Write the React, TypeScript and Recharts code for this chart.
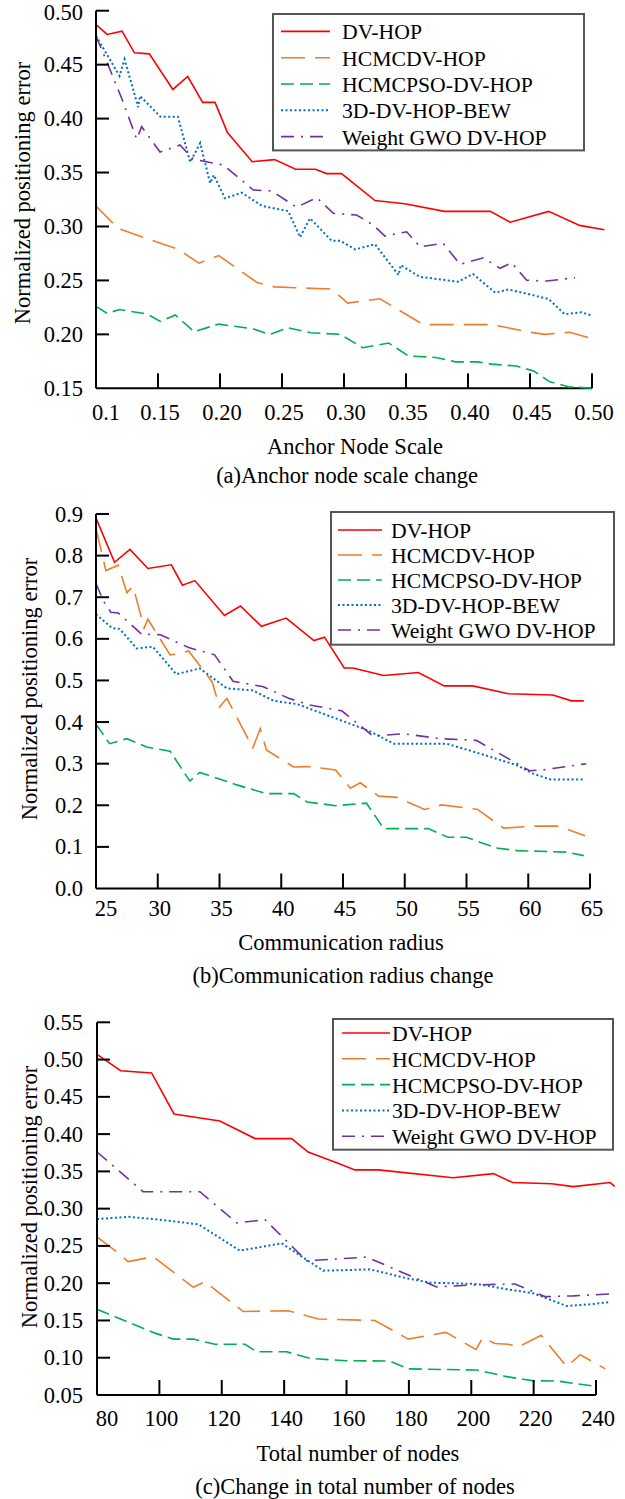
import React from 'react';
import { LineChart, Line, XAxis, YAxis, ReferenceLine, Legend } from 'recharts';

const FONT = '"Liberation Serif", "Times New Roman", serif';

// series shared by the three panels
const SERIES_NAMES = ['DV-HOP', 'HCMCDV-HOP', 'HCMCPSO-DV-HOP', '3D-DV-HOP-BEW', 'Weight GWO DV-HOP'];
const SERIES_COLORS = ['#ff0000', '#ee7d2c', '#00b050', '#0070c0', '#7030a0'];
const SERIES_DASHES = [undefined, '24 10', '13 6', '2 2.5', '13 7 2 7'];
const SERIES_WIDTHS = [1.6, 1.6, 1.6, 2, 1.6];

// (a) anchor node scale -> normalized positioning error
const anchorTicks = [0.1, 0.15, 0.2, 0.25, 0.3, 0.35, 0.4, 0.45, 0.5];
const anchorTickLabels = ['0.1', '0.15', '0.20', '0.25', '0.30', '0.35', '0.40', '0.45', '0.50'];
const errorTicksA = [0.15, 0.2, 0.25, 0.3, 0.35, 0.4, 0.45, 0.5];
const errorTickLabelsA = ['0.15', '0.20', '0.25', '0.30', '0.35', '0.40', '0.45', '0.50'];

const dvHopA = [[0.1, 0.487], [0.109, 0.478], [0.121, 0.481], [0.131, 0.461], [0.143, 0.46], [0.162, 0.427], [0.174, 0.439], [0.186, 0.415], [0.196, 0.415], [0.206, 0.387], [0.226, 0.36], [0.244, 0.362], [0.261, 0.353], [0.277, 0.353], [0.286, 0.349], [0.298, 0.349], [0.325, 0.324], [0.349, 0.321], [0.381, 0.314], [0.418, 0.314], [0.434, 0.304], [0.465, 0.314], [0.49, 0.301], [0.51, 0.297]];
const hcmcA = [[0.1, 0.319], [0.118, 0.298], [0.166, 0.279], [0.183, 0.266], [0.199, 0.273], [0.23, 0.248], [0.244, 0.244], [0.29, 0.242], [0.303, 0.229], [0.329, 0.233], [0.364, 0.209], [0.418, 0.209], [0.428, 0.207], [0.45, 0.202], [0.462, 0.2], [0.482, 0.202], [0.497, 0.197]];
const psoA = [[0.1, 0.226], [0.109, 0.2195], [0.119, 0.223], [0.135, 0.22], [0.141, 0.219], [0.152, 0.212], [0.164, 0.218], [0.179, 0.2025], [0.199, 0.2095], [0.227, 0.205], [0.24, 0.2], [0.255, 0.206], [0.273, 0.2015], [0.297, 0.2], [0.315, 0.1876], [0.336, 0.192], [0.352, 0.18], [0.374, 0.1786], [0.39, 0.1745], [0.408, 0.1745], [0.419, 0.1724], [0.439, 0.1706], [0.453, 0.166], [0.466, 0.156], [0.481, 0.1515], [0.5, 0.15]];
const bewA = [[0.1, 0.4766], [0.119, 0.4395], [0.123, 0.455], [0.134, 0.4106], [0.1355, 0.421], [0.152, 0.4017], [0.166, 0.4017], [0.176, 0.3596], [0.184, 0.3773], [0.192, 0.3402], [0.195, 0.3477], [0.204, 0.3261], [0.2175, 0.3313], [0.234, 0.319], [0.255, 0.3143], [0.2645, 0.29], [0.2726, 0.3076], [0.29, 0.2868], [0.297, 0.2868], [0.309, 0.2788], [0.325, 0.2835], [0.344, 0.255], [0.3457, 0.2642], [0.361, 0.2534], [0.392, 0.2488], [0.404, 0.2559], [0.422, 0.2386], [0.4325, 0.2417], [0.465, 0.2328], [0.478, 0.2186], [0.4917, 0.2204], [0.5, 0.2173]];
const gwoA = [[0.1, 0.4766], [0.11, 0.449], [0.121, 0.418], [0.1328, 0.381], [0.1368, 0.3925], [0.1516, 0.369], [0.1677, 0.3755], [0.1785, 0.3623], [0.2027, 0.357], [0.2269, 0.3338], [0.2417, 0.3329], [0.2618, 0.3178], [0.278, 0.3267], [0.2914, 0.3122], [0.3102, 0.3106], [0.3236, 0.3013], [0.333, 0.2911], [0.3505, 0.2951], [0.3613, 0.2812], [0.38, 0.2844], [0.3935, 0.2649], [0.4124, 0.271], [0.4258, 0.2612], [0.4352, 0.2664], [0.4473, 0.2502], [0.4634, 0.2494], [0.4863, 0.2525]];

// (b) communication radius -> normalized positioning error
const radiusTicks = [25, 30, 35, 40, 45, 50, 55, 60, 65];
const radiusTickLabels = ['25', '30', '35', '40', '45', '50', '55', '60', '65'];
const errorTicksB = [0, 0.1, 0.2, 0.3, 0.4, 0.5, 0.6, 0.7, 0.8, 0.9];
const errorTickLabelsB = ['0.0', '0.1', '0.2', '0.3', '0.4', '0.5', '0.6', '0.7', '0.8', '0.9'];

const dvHopB = [[25, 0.89], [26.5, 0.784], [27.75, 0.815], [29.2, 0.769], [31.1, 0.778], [32, 0.729], [33, 0.74], [35.4, 0.656], [36.7, 0.679], [38.4, 0.63], [40.4, 0.65], [42.65, 0.596], [43.5, 0.604], [45.1, 0.53], [45.8, 0.53], [48.3, 0.512], [51.1, 0.519], [53.2, 0.487], [55.5, 0.487], [58.4, 0.468], [62, 0.465], [63.5, 0.451], [64.5, 0.451]];
const hcmcB = [[25, 0.865], [25.8, 0.764], [26.8, 0.777], [27.5, 0.711], [28, 0.726], [28.9, 0.626], [29.2, 0.647], [31, 0.5615], [31.5, 0.563], [32.5, 0.571], [34.4, 0.497], [35, 0.436], [35.6, 0.457], [37.7, 0.338], [38.3, 0.384], [38.8, 0.333], [41, 0.292], [42.2, 0.293], [44.4, 0.285], [45.6, 0.241], [46.4, 0.254], [47.9, 0.222], [49.4, 0.219], [51.6, 0.19], [53, 0.201], [55.9, 0.19], [58, 0.145], [60.4, 0.15], [62.4, 0.15], [64.6, 0.127]];
const psoB = [[25, 0.395], [26.1, 0.348], [27.5, 0.36], [29.1, 0.34], [31, 0.33], [32.6, 0.258], [33.4, 0.279], [36.4, 0.249], [38.8, 0.228], [41, 0.228], [42.1, 0.208], [44.4, 0.199], [46.9, 0.205], [48.3, 0.144], [51.9, 0.144], [53.5, 0.123], [55, 0.123], [57.4, 0.0975], [59.1, 0.091], [63.1, 0.0875], [64.5, 0.079]];
const bewB = [[25, 0.659], [26.3, 0.626], [26.9, 0.624], [28.3, 0.577], [29.6, 0.581], [31.5, 0.515], [33.4, 0.529], [35.6, 0.481], [37.7, 0.476], [39.4, 0.451], [41.3, 0.443], [43.4, 0.42], [45.2, 0.4], [47.1, 0.379], [49.1, 0.348], [53.4, 0.348], [56.1, 0.324], [59.1, 0.296], [60.4, 0.276], [61.8, 0.262], [64.6, 0.262]];
const gwoB = [[25, 0.733], [25.6, 0.691], [26.2, 0.664], [26.8, 0.662], [28.7, 0.611], [30.2, 0.61], [32.5, 0.579], [34.6, 0.5615], [36.1, 0.498], [38.55, 0.485], [40.6, 0.457], [42.3, 0.441], [44.6, 0.4285], [44.9, 0.427], [47.45, 0.366], [49.9, 0.372], [52.9, 0.36], [55.8, 0.356], [60.1, 0.283], [61.2, 0.285], [64.7, 0.3]];

// (c) total number of nodes -> normalized positioning error
const nodeTicks = [80, 100, 120, 140, 160, 180, 200, 220, 240];
const nodeTickLabels = ['80', '100', '120', '140', '160', '180', '200', '220', '240'];
const errorTicksC = [0.05, 0.1, 0.15, 0.2, 0.25, 0.3, 0.35, 0.4, 0.45, 0.5, 0.55];
const errorTickLabelsC = ['0.05', '0.10', '0.15', '0.20', '0.25', '0.30', '0.35', '0.40', '0.45', '0.50', '0.55'];

const dvHopC = [[80, 0.507], [87.6, 0.485], [97.5, 0.482], [104.7, 0.427], [119.4, 0.4176], [130.7, 0.394], [142.4, 0.394], [147.7, 0.376], [157.9, 0.36], [162.7, 0.352], [170.2, 0.352], [194.2, 0.3415], [207.1, 0.347], [213.3, 0.335], [225.8, 0.3335], [232.7, 0.3295], [244.5, 0.335], [246, 0.33]];
const hcmcC = [[80, 0.262], [86.3, 0.242], [90, 0.229], [98, 0.2355], [110.9, 0.1945], [114.6, 0.202], [126.9, 0.162], [141.3, 0.163], [151, 0.152], [169.1, 0.15], [179.8, 0.125], [191.9, 0.134], [201.5, 0.111], [203.7, 0.127], [207.6, 0.119], [211.9, 0.118], [215.4, 0.115], [222.4, 0.13], [230.6, 0.088], [234.9, 0.104], [243, 0.085]];
const psoC = [[80, 0.165], [98.6, 0.133], [104.5, 0.125], [110.9, 0.125], [117.8, 0.118], [127.5, 0.118], [131.2, 0.108], [140.8, 0.108], [148.3, 0.099], [160, 0.096], [173.9, 0.0956], [179.8, 0.085], [201.7, 0.0835], [211.4, 0.0746], [219.9, 0.069], [227.4, 0.0688], [239.1, 0.062]];
const bewC = [[80, 0.286], [90, 0.289], [99, 0.2857], [112.5, 0.279], [125.8, 0.2436], [139.2, 0.2535], [152.5, 0.2168], [161, 0.2177], [167.5, 0.2186], [179.3, 0.2066], [186.8, 0.2007], [201.7, 0.199], [211.4, 0.192], [219.9, 0.1864], [230.6, 0.1694], [239.1, 0.172], [244, 0.1744]];
const gwoC = [[80, 0.376], [94.8, 0.3227], [113, 0.3227], [124.8, 0.281], [133.9, 0.285], [147.2, 0.23], [160.6, 0.2334], [166.5, 0.235], [180.4, 0.21], [188.9, 0.195], [200.6, 0.1976], [214, 0.199], [223.6, 0.182], [232.7, 0.183], [244.3, 0.1855]];

type Pair = number[];

interface Panel {
  top: number;
  height: number;
  margin: { top: number; right: number; bottom: number; left: number };
  plotLeft: number;
  plotBottom: number;
  xTickY: number;
  xDomain: [number, number];
  xTicks: number[];
  xTickLabels: string[];
  yDomain: [number, number];
  yTicks: number[];
  yTickLabels: string[];
  series: Pair[][];
  legend: { x: number; y: number; w: number; h: number; rowY: number; rowGap: number; lineX1: number; lineX2: number; textX: number };
  yTitle: { x: number; y: number };
  xTitle: { text: string; x: number; y: number };
  caption: { text: string; x: number; y: number };
}

const panels: Panel[] = [
  {
    top: 0,
    height: 430,
    margin: { top: 10.7, right: 18.1, bottom: 11.7, left: 0 },
    plotLeft: 96,
    plotBottom: 388.3,
    xTickY: 412,
    xDomain: [0.1, 0.512],
    xTicks: anchorTicks,
    xTickLabels: anchorTickLabels,
    yDomain: [0.15, 0.5],
    yTicks: errorTicksA,
    yTickLabels: errorTickLabelsA,
    series: [dvHopA, hcmcA, psoA, bewA, gwoA],
    legend: { x: 272, y: 13.3, w: 313, h: 138.4, rowY: 18.4, rowGap: 26.3, lineX1: 9, lineX2: 58, textX: 70 },
    yTitle: { x: 23, y: 193 },
    xTitle: { text: 'Anchor Node Scale', x: 355, y: 447 },
    caption: { text: '(a)Anchor node scale change', x: 347, y: 476 },
  },
  {
    top: 490,
    height: 440,
    margin: { top: 24, right: 35, bottom: 11.5, left: 0 },
    plotLeft: 96,
    plotBottom: 398.5,
    xTickY: 418,
    xDomain: [25, 65],
    xTicks: radiusTicks,
    xTickLabels: radiusTickLabels,
    yDomain: [0, 0.9],
    yTicks: errorTicksB,
    yTickLabels: errorTickLabelsB,
    series: [dvHopB, hcmcB, psoB, bewB, gwoB],
    legend: { x: 330, y: 21, w: 285, h: 134.7, rowY: 19, rowGap: 25, lineX1: 8, lineX2: 52, textX: 61 },
    yTitle: { x: 30, y: 689 },
    xTitle: { text: 'Communication radius', x: 341, y: 943 },
    caption: { text: '(b)Communication radius change', x: 343, y: 976 },
  },
  {
    top: 1000,
    height: 430,
    margin: { top: 22.3, right: 8.7, bottom: 5, left: 0 },
    plotLeft: 97,
    plotBottom: 395,
    xTickY: 418.3,
    xDomain: [80, 246.5],
    xTicks: nodeTicks,
    xTickLabels: nodeTickLabels,
    yDomain: [0.05, 0.55],
    yTicks: errorTicksC,
    yTickLabels: errorTickLabelsC,
    series: [dvHopC, hcmcC, psoC, bewC, gwoC],
    legend: { x: 332, y: 18.3, w: 282, h: 132.7, rowY: 15, rowGap: 25.8, lineX1: 10, lineX2: 58, textX: 60 },
    yTitle: { x: 30, y: 1197 },
    xTitle: { text: 'Total number of nodes', x: 358, y: 1454 },
    caption: { text: '(c)Change in total number of nodes', x: 355, y: 1487 },
  },
];

const toPoints = (pairs: Pair[]) => pairs.map(([x, y]) => ({ x, y }));

// x ticks point up into the plot; the first label sits right of the corner
const makeXTick = (p: Panel) => (props: any) => {
  const { x, payload } = props;
  const i = p.xTicks.indexOf(payload.value);
  const first = i === 0;
  return (
    <g>
      {!first && (
        <line x1={x} x2={x} y1={p.plotBottom} y2={p.plotBottom - 15} stroke="#000" strokeWidth={2} />
      )}
      <text
        x={x + (first ? 10 : 2)}
        y={p.xTickY}
        textAnchor="middle"
        dominantBaseline="central"
        fontSize={22.5}
        fontFamily={FONT}
        fill="#000"
      >
        {p.xTickLabels[i]}
      </text>
    </g>
  );
};

// y ticks point right into the plot
const makeYTick = (p: Panel) => (props: any) => {
  const { y, payload } = props;
  const i = p.yTicks.indexOf(payload.value);
  // keep the topmost label of the first panel inside the page
  const ty = p.top === 0 && i === p.yTicks.length - 1 ? y + 1.5 : y;
  return (
    <g>
      {i > 0 && <line x1={p.plotLeft} x2={p.plotLeft + 13} y1={y} y2={y} stroke="#000" strokeWidth={2} />}
      <text x={83} y={ty} textAnchor="end" dominantBaseline="central" fontSize={22.5} fontFamily={FONT} fill="#000">
        {p.yTickLabels[i]}
      </text>
    </g>
  );
};

const makeLegend = (p: Panel) => () => {
  const l = p.legend;
  return (
    <svg width={l.w} height={l.h} style={{ display: 'block' }}>
      <rect x={1} y={1} width={l.w - 2} height={l.h - 2} fill="#fff" stroke="#555" strokeWidth={2} />
      {SERIES_NAMES.map((name, i) => {
        const cy = l.rowY + i * l.rowGap;
        return (
          <g key={name}>
            <line
              x1={l.lineX1}
              x2={l.lineX2}
              y1={cy}
              y2={cy}
              stroke={SERIES_COLORS[i]}
              strokeWidth={SERIES_WIDTHS[i]}
              strokeDasharray={SERIES_DASHES[i]}
            />
            <text x={l.textX} y={cy + 1} dominantBaseline="central" fontSize={21.7} fontFamily={FONT} fill="#000">
              {name}
            </text>
          </g>
        );
      })}
    </svg>
  );
};

const textStyle: React.CSSProperties = {
  position: 'absolute',
  fontFamily: FONT,
  fontSize: 22.5,
  lineHeight: 1,
  whiteSpace: 'nowrap',
  color: '#000',
};

const PanelChart: React.FC<{ p: Panel }> = ({ p }) => {
  const yMin = p.yDomain[0];
  return (
    <>
      <div style={{ position: 'absolute', left: 0, top: p.top }}>
        <LineChart width={625} height={p.height} margin={p.margin}>
          <XAxis
            type="number"
            dataKey="x"
            domain={p.xDomain}
            ticks={p.xTicks}
            interval={0}
            axisLine={false}
            tickLine={false}
            tickSize={0}
            tickMargin={0}
            height={30}
            tick={makeXTick(p)}
          />
          <YAxis
            type="number"
            dataKey="y"
            domain={p.yDomain}
            ticks={p.yTicks}
            interval={0}
            width={p.plotLeft}
            axisLine={{ stroke: '#000', strokeWidth: 2 }}
            tickLine={false}
            tick={makeYTick(p)}
          />
          <ReferenceLine
            segment={[
              { x: p.xTicks[0], y: yMin },
              { x: p.xTicks[p.xTicks.length - 1], y: yMin },
            ]}
            stroke="#000"
            strokeWidth={2}
          />
          {p.series.map((pairs, i) => (
            <Line
              key={SERIES_NAMES[i]}
              data={toPoints(pairs)}
              dataKey="y"
              name={SERIES_NAMES[i]}
              type="linear"
              stroke={SERIES_COLORS[i]}
              strokeWidth={SERIES_WIDTHS[i]}
              strokeDasharray={SERIES_DASHES[i]}
              dot={false}
              activeDot={false}
              isAnimationActive={false}
            />
          ))}
          <Legend
            verticalAlign="middle"
            align="center"
            content={makeLegend(p)}
            wrapperStyle={{ left: p.legend.x, top: p.legend.y, width: p.legend.w, height: p.legend.h }}
          />
        </LineChart>
      </div>
      <div
        style={{
          ...textStyle,
          left: p.yTitle.x,
          top: p.yTitle.y,
          transform: 'translate(-50%, -50%) rotate(-90deg)',
        }}
      >
        Normalized positioning error
      </div>
      <div style={{ ...textStyle, left: p.xTitle.x, top: p.xTitle.y, transform: 'translate(-50%, -50%)' }}>
        {p.xTitle.text}
      </div>
      <div style={{ ...textStyle, left: p.caption.x, top: p.caption.y, transform: 'translate(-50%, -50%)' }}>
        {p.caption.text}
      </div>
    </>
  );
};

export default function App() {
  return (
    <div style={{ position: 'absolute', left: 0, top: 0, width: 625, height: 1499, background: '#fff' }}>
      <style>{'.recharts-surface { overflow: visible; }'}</style>
      {panels.map((p) => (
        <PanelChart key={p.caption.text} p={p} />
      ))}
    </div>
  );
}
